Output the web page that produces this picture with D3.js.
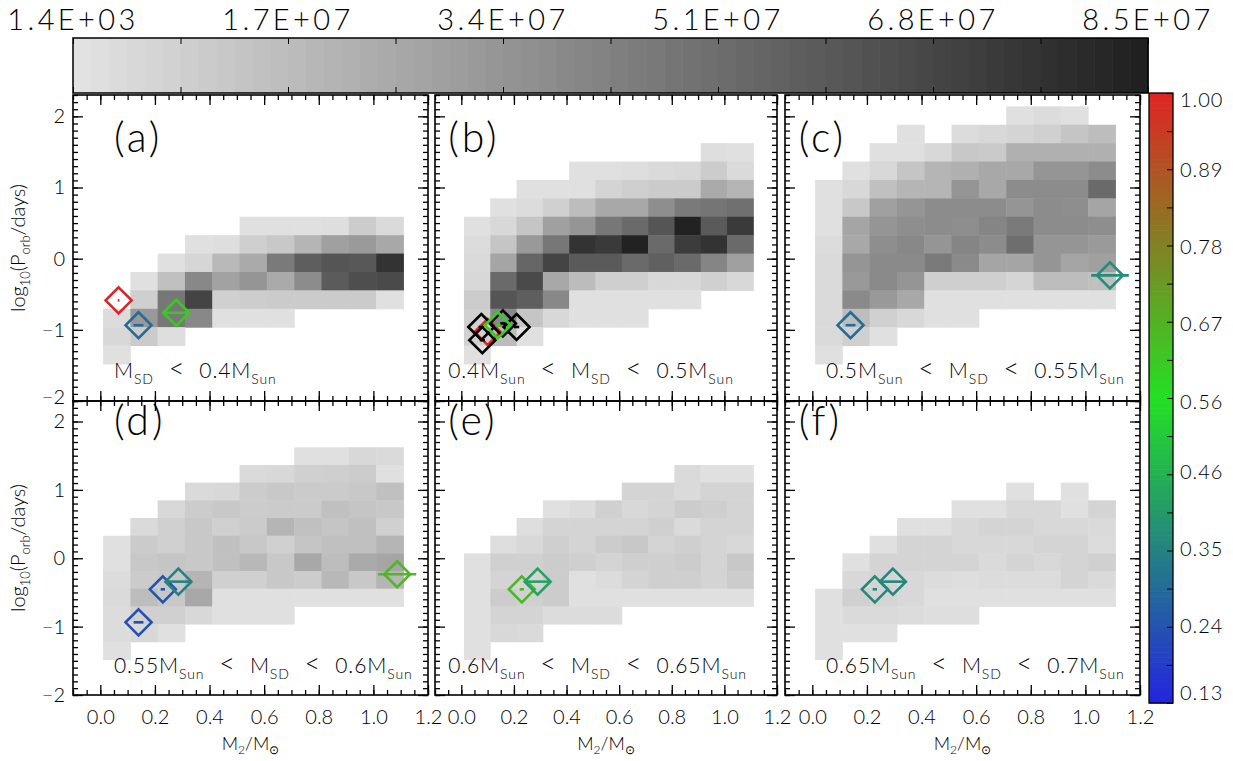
<!DOCTYPE html>
<html><head><meta charset="utf-8">
<script src="https://cdn.jsdelivr.net/npm/d3@7"></script>
<style>
body{margin:0;background:#fff;}
svg text{font-family:Lato,"DejaVu Sans",sans-serif;font-weight:300;fill:#000;}
</style></head><body>
<svg id="c" width="1233" height="761" xmlns="http://www.w3.org/2000/svg"></svg>
<script>
const N = null;
// ---------- tick labels ----------
const xTickValues = [0, 0.2, 0.4, 0.6, 0.8, 1.0, 1.2];
const xTickLabels = ["0.0", "0.2", "0.4", "0.6", "0.8", "1.0", "1.2"];
const yTickValues = [-2, -1, 0, 1, 2];
const yTickLabels = ["\u22122", "\u22121", "0", "1", "2"];
const countLabels = ["1.4E+03", "1.7E+07", "3.4E+07", "5.1E+07", "6.8E+07", "8.5E+07"];
const fracValues = [1.00, 0.89, 0.78, 0.67, 0.56, 0.46, 0.35, 0.24, 0.13];
const fracLabels = ["1.00", "0.89", "0.78", "0.67", "0.56", "0.46", "0.35", "0.24", "0.13"];
const panelTags = ["(a)", "(b)", "(c)", "(d)", "(e)", "(f)"];
// mass-range captions: [text, style] style 0 normal, 1 subscript, 2 relation sign
const rangeA = [["M",0],["SD",1],["  <  ",2],["0.4M",0],["Sun",1]];
const rangeB = [["0.4M",0],["Sun",1],["  <  ",2],["M",0],["SD",1],["  <  ",2],["0.5M",0],["Sun",1]];
const rangeC = [["0.5M",0],["Sun",1],["  <  ",2],["M",0],["SD",1],["  <  ",2],["0.55M",0],["Sun",1]];
const rangeD = [["0.55M",0],["Sun",1],["  <  ",2],["M",0],["SD",1],["  <  ",2],["0.6M",0],["Sun",1]];
const rangeE = [["0.6M",0],["Sun",1],["  <  ",2],["M",0],["SD",1],["  <  ",2],["0.65M",0],["Sun",1]];
const rangeF = [["0.65M",0],["Sun",1],["  <  ",2],["M",0],["SD",1],["  <  ",2],["0.7M",0],["Sun",1]];

// ---------- histogram bins (x: M2 in Msun, y: log10 Porb) ----------
const binX0 = 0.01, binW = 0.1, binY0 = -1.48, binH = 0.2586, nBinRows = 14;
// cell values in units of 1e7, rows listed from top bin (13) to bottom bin (0)
const gridA = [
 [N,N,N,N,N,N,N,N,N,N,N],
 [N,N,N,N,N,N,N,N,N,N,N],
 [N,N,N,N,N,N,N,N,N,N,N],
 [N,N,N,N,N,N,N,N,N,N,N],
 [N,N,N,N,N,N,N,N,N,N,N],
 [N,N,N,N,N,N,N,N,N,N,N],
 [N,N,N,N,N,0,0,0,0.09,0.89,0.27],
 [N,N,N,0,0.09,0.75,1.06,1.90,2.83,3.10,2.48],
 [N,N,0,0.44,1.73,2.39,4.52,5.76,6.15,6.02,7.66],
 [N,0,1.42,3.90,2.74,3.32,2.39,3.72,5.89,6.46,6.64],
 [N,0.75,4.65,6.91,0.71,0.84,0.93,0.93,0.93,0.93,0],
 [0.18,3.14,4.65,3.90,0,0,0,N,N,N,N],
 [0.35,0.93,0.09,N,N,N,N,N,N,N,N],
 [0,N,N,N,N,N,N,N,N,N,N]
];
const gridB = [
 [N,N,N,N,N,N,N,N,N,N,N],
 [N,N,N,N,N,N,N,N,N,N,N],
 [N,N,N,N,N,N,N,N,N,0.09,0],
 [N,N,N,N,0,0,0.09,0.27,0.35,0.89,0.27],
 [N,N,0,0,0,0.53,0.75,0.93,0.93,2.39,1.90],
 [N,0,0.18,0.71,1.55,2.48,2.48,3.63,4.52,4.74,4.96],
 [0,0.35,1.20,2.83,3.32,4.65,5.22,6.15,8.41,5.93,7.35],
 [0.18,1.20,3.14,4.65,7.66,7.35,8.41,5.22,7.26,7.66,5.22],
 [0.27,2.61,5.40,6.91,5.93,5.93,5.22,5.67,5.22,4.03,2.83],
 [0.35,5.22,6.64,2.48,1.59,0.75,0.75,0.35,0.35,0.71,0.35],
 [0.89,6.15,5.76,3.90,0,0,0,0,0,N,N],
 [0.71,3.90,1.20,0.35,0,0,0,N,N,N,N],
 [0.71,1.59,0,N,N,N,N,N,N,N,N],
 [0,N,N,N,N,N,N,N,N,N,N]
];
const gridC = [
 [N,N,N,N,N,N,N,0,0.18,0,N],
 [N,N,N,0,N,0.18,0.35,0.53,0.71,1.20,1.55],
 [N,N,0,0,0.35,1.06,0.97,2.12,2.12,2.12,2.12],
 [N,0,0.35,1.20,1.90,2.12,2.48,2.48,3.32,3.32,3.72],
 [0,0.35,1.42,1.90,1.90,3.32,2.48,3.72,3.72,3.72,5.22],
 [0,1.06,2.83,3.32,3.72,3.72,3.72,3.32,3.72,3.63,2.61],
 [0,2.61,3.32,3.63,3.72,3.63,4.03,4.52,3.72,3.72,3.63],
 [0.18,2.48,3.63,3.90,3.32,4.03,3.72,5.05,3.32,3.32,3.10],
 [0.27,3.32,3.81,3.81,4.52,3.81,2.61,2.61,3.32,2.61,2.83],
 [0.27,3.14,3.81,3.32,0.75,0.75,0.75,0.49,1.55,1.55,1.42],
 [0.27,3.81,3.14,2.48,0,0,0,0,0,0,0],
 [0.27,1.55,0.71,0.35,0,0,N,N,N,N,N],
 [0.27,0.71,0,N,N,N,N,N,N,N,N],
 [0,N,N,N,N,N,N,N,N,N,N]
];
const gridD = [
 [N,N,N,N,N,N,N,N,N,N,N],
 [N,N,N,N,N,N,N,N,N,N,N],
 [N,N,N,N,N,N,N,0,0,0.35,0.27],
 [N,N,N,N,N,0.27,0.35,0.71,0.75,0.89,0],
 [N,N,N,0.27,0.35,0.89,1.06,0.93,0.93,1.06,1.42],
 [N,N,0.35,0.89,1.06,0.89,0.93,0.93,1.42,1.20,1.06],
 [N,0.27,0.71,1.06,0.71,0.93,1.90,1.42,1.20,1.42,0.71],
 [0,0.93,0.71,1.06,1.42,1.06,0.71,1.20,1.42,1.42,1.90],
 [0,1.06,1.20,1.06,1.42,1.77,1.06,2.48,1.55,2.39,2.61],
 [0.18,0.93,1.06,1.90,0.71,0.71,1.06,0.89,1.77,1.06,1.90],
 [0.27,1.55,1.06,2.48,0,0,0,0,0,0,0],
 [0.18,0.71,0.71,0.35,0,0,0,N,N,N,N],
 [0.18,0.35,0,N,N,N,N,N,N,N,N],
 [0,N,N,N,N,N,N,N,N,N,N]
];
const gridE = [
 [N,N,N,N,N,N,N,N,N,N,N],
 [N,N,N,N,N,N,N,N,N,N,N],
 [N,N,N,N,N,N,N,N,N,N,N],
 [N,N,N,N,N,N,N,N,0.27,0,0],
 [N,N,N,N,N,N,0.53,0.53,0.27,0.53,0.53],
 [N,N,N,0,0.18,0.71,0.35,0.53,0.89,0.75,0.53],
 [N,N,0.09,0.53,0.53,0.53,0.53,0.75,0.27,0.53,0.53],
 [N,0.09,0.35,0.75,0.53,0.89,1.06,0.53,0.75,0.53,0.35],
 [0,0.71,0.71,0.89,0.75,0.53,0.75,0.75,0.89,0.53,1.06],
 [0,0.53,0.53,0.89,0,0.18,0.53,0.75,0.75,0.53,0.89],
 [0,0.89,0.71,0.89,0,0,0,0,0,0,0],
 [0,0.53,0.53,0.18,0.18,0.18,N,N,N,N,N],
 [0,0.35,0.27,N,N,N,N,N,N,N,N],
 [0,N,N,N,N,N,N,N,N,N,N]
];
const gridF = [
 [N,N,N,N,N,N,N,N,N,N,N],
 [N,N,N,N,N,N,N,N,N,N,N],
 [N,N,N,N,N,N,N,N,N,N,N],
 [N,N,N,N,N,N,N,N,N,N,N],
 [N,N,N,N,N,N,N,0,N,0,N],
 [N,N,N,N,N,0,0,0.35,0.35,0,0.53],
 [N,N,N,0,0,0.35,0.53,0.53,0.35,0.35,0.27],
 [N,N,0,0.53,0.53,0.35,0.35,0.35,0.53,0.53,0.18],
 [N,0,0.53,0.53,0.53,0.53,0.27,0.53,0.35,0.53,0.71],
 [N,0.35,0.53,0.35,0.18,0.09,0.18,0.18,0.18,0.53,0.27],
 [0,0.71,0.53,0.35,0,0,0,0,0,0,0],
 [0,0.27,0.27,0.18,0.09,0.09,N,N,N,N,N],
 [0,0,0,N,N,N,N,N,N,N,N],
 [0,N,N,N,N,N,N,N,N,N,N]
];
// ---------- observed systems: x=M2, y=log Porb, xe=error, v=colour value (null = black) ----------
const markersA = [
 {x:0.067, y:-0.585, xe:0.003, v:1.00},
 {x:0.140, y:-0.935, xe:0.018, v:0.30},
 {x:0.278, y:-0.760, xe:0.049, v:0.62}
];
const markersB = [
 {x:0.100, y:-1.030, xe:0.005, v:1.00},
 {x:0.076, y:-0.960, xe:0.010, v:null},
 {x:0.080, y:-1.145, xe:0.010, v:null},
 {x:0.158, y:-0.910, xe:0.010, v:null},
 {x:0.210, y:-0.960, xe:0.010, v:null},
 {x:0.139, y:-0.935, xe:0.010, v:0.60}
];
const markersC = [
 {x:0.140, y:-0.935, xe:0.018, v:0.30},
 {x:1.090, y:-0.234, xe:0.069, v:0.37}
];
const markersD = [
 {x:0.140, y:-0.937, xe:0.018, v:0.23},
 {x:0.229, y:-0.454, xe:0.008, v:0.24},
 {x:0.286, y:-0.342, xe:0.049, v:0.35},
 {x:1.087, y:-0.234, xe:0.070, v:0.66}
];
const markersE = [
 {x:0.230, y:-0.454, xe:0.008, v:0.66},
 {x:0.290, y:-0.342, xe:0.049, v:0.42}
];
const markersF = [
 {x:0.229, y:-0.454, xe:0.008, v:0.36},
 {x:0.295, y:-0.342, xe:0.049, v:0.36}
];

// ---------- layout ----------
const svg = d3.select("#c");
const cols = [{l:73, r:428}, {l:435, r:777}, {l:785, r:1140}];
const rows = [{t:95, b:401}, {t:401, b:695}];
const xDomain = [-0.1, 1.2], yDomain = [-2, 2.3];
const panels = [
 {c:0, r:0, grid:gridA, mk:markersA, tag:panelTags[0], tagX:0.05,  txt:rangeA, txtX:0.05},
 {c:1, r:0, grid:gridB, mk:markersB, tag:panelTags[1], tagX:-0.05, txt:rangeB, txtX:-0.05},
 {c:2, r:0, grid:gridC, mk:markersC, tag:panelTags[2], tagX:-0.05, txt:rangeC, txtX:0.05},
 {c:0, r:1, grid:gridD, mk:markersD, tag:panelTags[3], tagX:0.05,  txt:rangeD, txtX:0.05},
 {c:1, r:1, grid:gridE, mk:markersE, tag:panelTags[4], tagX:-0.05, txt:rangeE, txtX:-0.05},
 {c:2, r:1, grid:gridF, mk:markersF, tag:panelTags[5], tagX:-0.05, txt:rangeF, txtX:0.05}
];
const tagY = [1.5, 1.8], txtY = [-1.68, -1.68];

const grayScale = d3.scaleLinear().domain([0, 8.5]).range([224, 32]);
const grayOf = v => { const g = Math.round(grayScale(v)); return `rgb(${g},${g},${g})`; };
const fracColor = d3.scaleLinear().domain([0.13, 0.565, 1.0])
  .range(["#2424e0", "#24e024", "#e02424"]).interpolate(d3.interpolateRgb);

function rich(g, x, y, segs, fs, sfs, sdy, anchor, ls) {
  const t = g.append("text").attr("x", x).attr("y", y).attr("font-size", fs)
    .attr("text-anchor", anchor || "start").attr("xml:space", "preserve").style("white-space", "pre");
  let shifted = false;
  segs.forEach(([s, st]) => {
    const ts = t.append("tspan").text(s);
    if (ls && st !== 2) ts.attr("letter-spacing", ls);
    if (st === 1) { ts.attr("font-size", sfs).attr("dy", shifted ? 0 : sdy); shifted = true; }
    else {
      ts.attr("dy", shifted ? -sdy : 0); shifted = false;
      if (st === 2) ts.attr("font-size", fs * 1.3);
    }
  });
  return t;
}

panels.forEach((p, pi) => {
  const col = cols[p.c], row = rows[p.r];
  const x = d3.scaleLinear().domain(xDomain).range([col.l, col.r]);
  const y = d3.scaleLinear().domain(yDomain).range([row.b, row.t]);
  const g = svg.append("g");
  // cells
  const cells = [];
  p.grid.forEach((rowVals, ri) => {
    const bi = nBinRows - 1 - ri;
    rowVals.forEach((v, ci) => { if (v !== null) cells.push({bi, ci, v}); });
  });
  g.selectAll("rect.cell").data(cells).join("rect").attr("class", "cell")
    .attr("x", d => x(binX0 + d.ci * binW))
    .attr("width", d => x(binX0 + (d.ci + 1) * binW) - x(binX0 + d.ci * binW) + 0.5)
    .attr("y", d => y(binY0 + (d.bi + 1) * binH))
    .attr("height", d => y(binY0 + d.bi * binH) - y(binY0 + (d.bi + 1) * binH) + 0.5)
    .attr("fill", d => grayOf(d.v));
  // axes: ticks inward
  const mkAxis = (axisFn, scale, vals, size, pos, fmt) => {
    const a = axisFn(scale).tickValues(vals).tickSize(size).tickFormat(fmt || (() => ""));
    const ag = g.append("g").attr("transform", pos).call(a);
    ag.select(".domain").remove();
    ag.selectAll("line").attr("stroke", "#000").attr("stroke-width", 1.3);
    return ag;
  };
  const xMinor = d3.range(-0.1, 1.2001, 0.05);
  const yMinor = d3.range(-2, 2.3001, 0.1);
  mkAxis(d3.axisBottom, x, xMinor, -5, `translate(0,${row.b})`);
  mkAxis(d3.axisTop, x, xMinor, -5, `translate(0,${row.t})`);
  mkAxis(d3.axisLeft, y, yMinor, -5, `translate(${col.l},0)`);
  mkAxis(d3.axisRight, y, yMinor, -5, `translate(${col.r},0)`);
  const bx = mkAxis(d3.axisBottom, x, xTickValues, -10, `translate(0,${row.b})`,
     p.r === 1 ? ((d, i) => xTickLabels[i]) : null);
  mkAxis(d3.axisTop, x, xTickValues, -10, `translate(0,${row.t})`);
  const ly = mkAxis(d3.axisLeft, y, yTickValues, -10, `translate(${col.l},0)`,
     p.c === 0 ? ((d, i) => yTickLabels[i]) : null);
  mkAxis(d3.axisRight, y, yTickValues, -10, `translate(${col.r},0)`);
  bx.selectAll("text").attr("y", 29).attr("dy", 0).attr("font-size", 20)
    .style("font-family", "Lato,'DejaVu Sans',sans-serif").attr("fill", "#000");
  ly.selectAll("text").attr("x", -8).attr("dy", (d) => (p.r === 0 && d === -2) ? "0.12em" : "0.32em")
    .attr("font-size", 20)
    .style("font-family", "Lato,'DejaVu Sans',sans-serif").attr("fill", "#000");
  // frame
  g.append("rect").attr("x", col.l).attr("y", row.t).attr("width", col.r - col.l)
    .attr("height", row.b - row.t).attr("fill", "none").attr("stroke", "#000").attr("stroke-width", 1.6);
  // tag and caption
  g.append("text").attr("x", x(p.tagX)).attr("y", y(tagY[p.r])).attr("font-size", 41)
    .attr("letter-spacing", 3).text(p.tag);
  rich(g, x(p.txtX), y(txtY[p.r]), p.txt, 21, 14, 6, "start", 0.9);
  // markers
  const mg = g.selectAll("g.mk").data(p.mk).join("g").attr("class", "mk");
  const hs = 13;
  mg.append("path")
    .attr("d", d => { const cx = x(d.x), cy = y(d.y);
      return `M${cx},${cy - hs}L${cx + hs},${cy}L${cx},${cy + hs}L${cx - hs},${cy}Z`; })
    .attr("fill", "none").attr("stroke-width", 2.6)
    .attr("stroke", d => d.v === null ? "#000" : fracColor(d.v));
  mg.append("line")
    .attr("x1", d => x(d.x - d.xe)).attr("x2", d => x(d.x + d.xe))
    .attr("y1", d => y(d.y)).attr("y2", d => y(d.y))
    .attr("stroke-width", 2.6)
    .attr("stroke", d => d.v === null ? "#000" : fracColor(d.v));
  // axis titles
  if (p.c === 0) {
    const cy = (row.t + row.b) / 2;
    const tg = svg.append("g").attr("transform", `translate(25,${cy}) rotate(-90)`);
    rich(tg, 0, 0, [["log",0],["10",1],["(P",0],["orb",1],["/days)",0]], 20, 13, 5, "middle");
  }
  if (p.r === 1) {
    rich(svg, (col.l + col.r) / 2, 750, [["M",0],["2",1],["/M",0],["\u2299",1]], 18, 12, 4, "middle");
  }
});

// ---------- top colour bar (counts) ----------
const cb = {l:73, r:1148, t:38, b:93};
const nBands = 60;
const bandScale = d3.scaleLinear().domain([0, nBands]).range([cb.l, cb.r]);
const countGray = d3.scaleLinear().domain([0, nBands - 1]).range([226, 32]);
svg.append("g").selectAll("rect").data(d3.range(nBands)).join("rect")
  .attr("x", i => bandScale(i)).attr("width", i => bandScale(i + 1) - bandScale(i) + 0.6)
  .attr("y", cb.t).attr("height", cb.b - cb.t)
  .attr("fill", i => { const g = Math.round(countGray(i)); return `rgb(${g},${g},${g})`; });
const cbx = d3.scaleLinear().domain([0, countLabels.length - 1]).range([cb.l, cb.r]);
const cbTicks = d3.range(0, countLabels.length - 0.99, 0.5);
const tg1 = svg.append("g").attr("transform", `translate(0,${cb.t})`)
  .call(d3.axisTop(cbx).tickValues(cbTicks).tickSize(-6).tickFormat(""));
tg1.select(".domain").remove();
const tg2 = svg.append("g").attr("transform", `translate(0,${cb.b})`)
  .call(d3.axisBottom(cbx).tickValues(cbTicks).tickSize(-6).tickFormat(""));
tg2.select(".domain").remove();
svg.selectAll(".tick line").attr("stroke", "#000");
svg.append("rect").attr("x", cb.l).attr("y", cb.t).attr("width", cb.r - cb.l).attr("height", cb.b - cb.t)
  .attr("fill", "none").attr("stroke", "#000").attr("stroke-width", 1.5);
svg.append("g").selectAll("text").data(countLabels).join("text")
  .attr("x", (d, i) => cbx(i)).attr("y", 30).attr("text-anchor", "middle")
  .attr("font-size", 29).attr("letter-spacing", 3.4).text(d => d);

// ---------- right colour bar (fraction) ----------
const rb = {l:1149, r:1173, t:93, b:703};
const rbY = d3.scaleLinear().domain([0.13, 1.0]).range([rb.b, rb.t]);
const nR = 120;
const rBand = d3.scaleLinear().domain([0, nR]).range([rb.b, rb.t]);
svg.append("g").selectAll("rect").data(d3.range(nR)).join("rect")
  .attr("x", rb.l).attr("width", rb.r - rb.l)
  .attr("y", i => rBand(i + 1)).attr("height", i => rBand(i) - rBand(i + 1) + 0.6)
  .attr("fill", i => fracColor(rbY.invert((rBand(i) + rBand(i + 1)) / 2)));
const rTicks = d3.range(0, 16.01, 1).map(k => 0.13 + k * (1.0 - 0.13) / 16);
const rg = svg.append("g").attr("transform", `translate(${rb.r},0)`)
  .call(d3.axisRight(rbY).tickValues(rTicks).tickSize(-6).tickFormat(""));
rg.select(".domain").remove();
rg.selectAll("line").attr("stroke", "#000");
svg.append("rect").attr("x", rb.l).attr("y", rb.t).attr("width", rb.r - rb.l).attr("height", rb.b - rb.t)
  .attr("fill", "none").attr("stroke", "#000").attr("stroke-width", 1.3);
svg.append("g").selectAll("text").data(fracValues).join("text")
  .attr("x", 1180).attr("y", d => Math.min(693, Math.max(100, rbY(d)))).attr("dy", "0.35em")
  .attr("font-size", 20).attr("letter-spacing", 1).text((d, i) => fracLabels[i]);
</script>
</body></html>
